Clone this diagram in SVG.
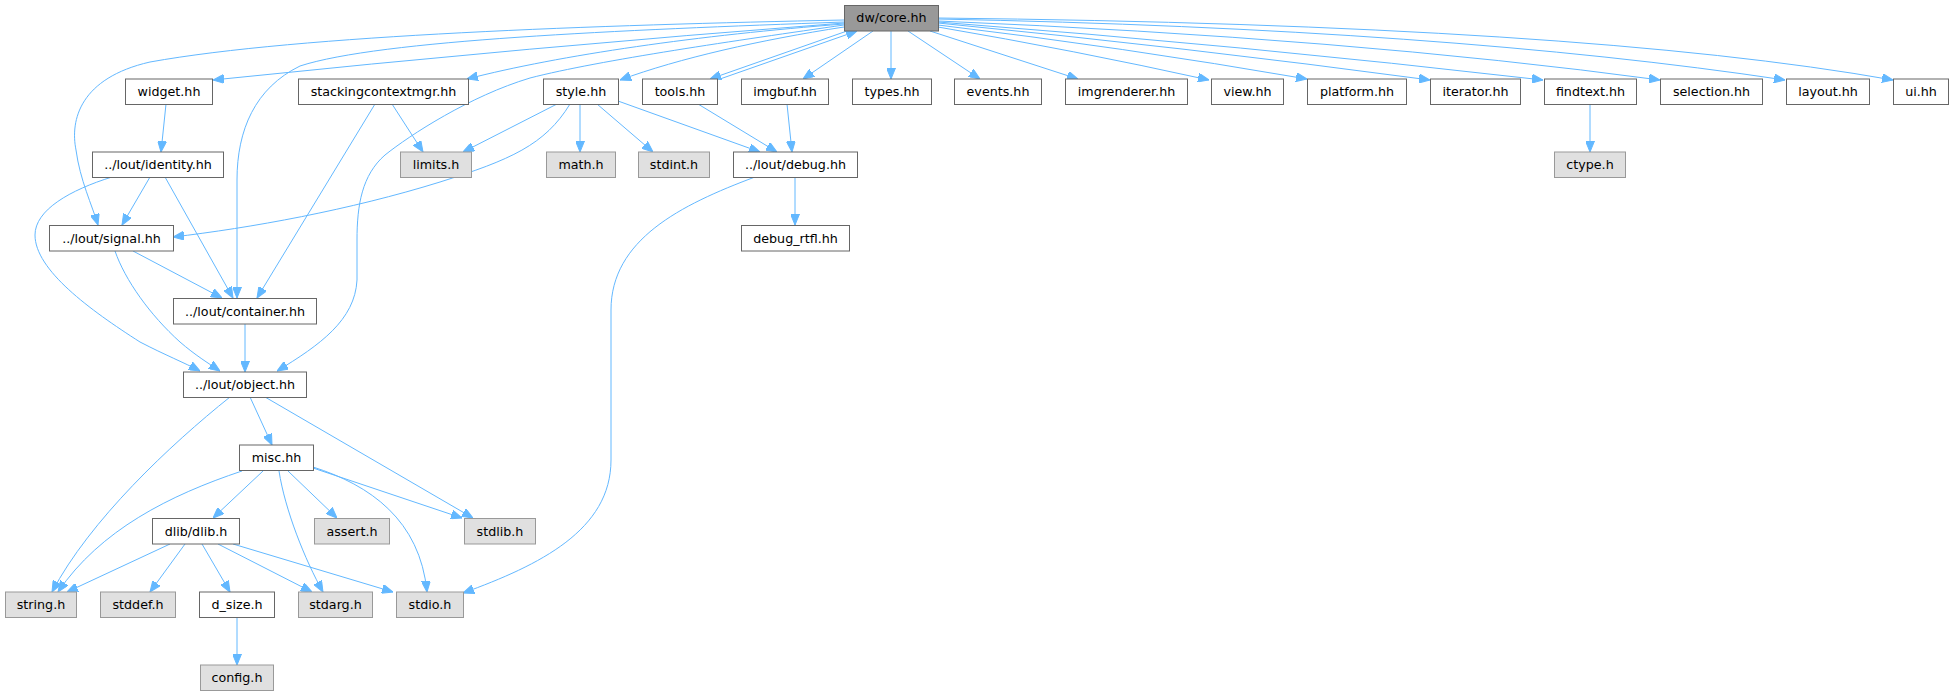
<svg xmlns="http://www.w3.org/2000/svg" width="1953" height="696" viewBox="0 0 1953 696">
<style>
.n rect{fill:#ffffff;stroke:#666666;stroke-width:1}
.g rect{fill:#e0e0e0;stroke:#999999;stroke-width:1}
.r rect{fill:#999999;stroke:#666666;stroke-width:1}
text{font-family:"DejaVu Sans","Liberation Sans",sans-serif;font-size:12.7px;fill:#000000;text-anchor:middle}
#edges path{fill:none;stroke:#63b8ff;stroke-width:1;marker-end:url(#a)}
</style>
<defs>
<marker id="a" markerWidth="11" markerHeight="9" refX="11" refY="4.5" orient="auto" markerUnits="userSpaceOnUse"><path d="M0,0 L11,4.5 L0,9 z" fill="#63b8ff" stroke="#63b8ff" stroke-width="1"/></marker>
</defs>
<rect width="1953" height="696" fill="#ffffff"/>
<g id="edges">
<path d="M844,20 C600,25 300,35 150,62 C80,78 70,120 76,150 C80,180 92,205 98,225"/>
<path d="M844,22 C620,30 380,40 300,66 C255,88 237,130 237,180 L237,298"/>
<path d="M844,23 Q530,47 213,80"/>
<path d="M844,24 C700,35 560,55 467,79"/>
<path d="M844,25 C740,40 600,60 530,78 C470,96 410,135 385,155 C362,175 357,205 357,240 L357,280 C355,320 320,345 277,371"/>
<path d="M844,27 C760,40 680,58 620,80"/>
<path d="M847,31 L710,79"/>
<path d="M720,79 L857,31"/>
<path d="M873,31 L803,79"/>
<path d="M891,31 L891,79"/>
<path d="M908,31 L980,79"/>
<path d="M930,31 L1078,79"/>
<path d="M938,27 Q1073,50 1209,80"/>
<path d="M938,25 Q1122,47 1307,79"/>
<path d="M938,23 Q1184,47 1430,80"/>
<path d="M938,22 Q1240,45 1543,80"/>
<path d="M938,21 Q1349,38 1660,80"/>
<path d="M938,19 Q1446,29 1785,80"/>
<path d="M938,18 Q1584,25 1893,80"/>
<path d="M166,104 L161,152"/>
<path d="M392,104 L423,152"/>
<path d="M375,104 L257,298"/>
<path d="M557,104 L463,152"/>
<path d="M570,104 C545,145 510,160 440,182 C350,210 250,228 173,237"/>
<path d="M580,104 L580,152"/>
<path d="M597,104 L653,152"/>
<path d="M618,101 L760,152"/>
<path d="M698,104 L777,152"/>
<path d="M787,104 L792,152"/>
<path d="M795,177 L795,225"/>
<path d="M755,177 C680,205 611,240 611,310 L611,460 C611,530 540,565 463,593"/>
<path d="M1590,104 L1590,152"/>
<path d="M150,177 L122,225"/>
<path d="M165,177 L233,298"/>
<path d="M112,177 C70,190 35,210 35,235 C35,270 90,310 140,342 C165,355 185,363 200,371"/>
<path d="M133,251 L222,298"/>
<path d="M115,251 C125,280 150,315 180,342 C195,355 208,363 220,371"/>
<path d="M245,324 L245,372"/>
<path d="M230,397 C170,445 90,520 52,592"/>
<path d="M250,397 L272,445"/>
<path d="M265,397 L473,518"/>
<path d="M242,471 C170,495 100,530 58,592"/>
<path d="M263,471 L213,518"/>
<path d="M279,471 C285,510 305,560 323,592"/>
<path d="M288,471 L337,518"/>
<path d="M313,468 L462,518"/>
<path d="M313,467 C370,485 420,520 427,592"/>
<path d="M170,544 L67,592"/>
<path d="M185,544 L150,592"/>
<path d="M202,544 L230,592"/>
<path d="M218,544 L312,592"/>
<path d="M233,544 L393,592"/>
<path d="M237,617 L237,665"/>
</g>
<g id="core" class="r"><rect x="844.5" y="5.5" width="94" height="25.5"/><text x="891.5" y="22">dw/core.hh</text></g>
<g id="widget" class="n"><rect x="125.5" y="79" width="87" height="25.5"/><text x="169" y="96">widget.hh</text></g>
<g id="stackingcontextmgr" class="n"><rect x="298.5" y="79" width="170" height="25.5"/><text x="383.5" y="96">stackingcontextmgr.hh</text></g>
<g id="style" class="n"><rect x="543.5" y="79" width="75" height="25.5"/><text x="581" y="96">style.hh</text></g>
<g id="tools" class="n"><rect x="642.5" y="79" width="75" height="25.5"/><text x="680" y="96">tools.hh</text></g>
<g id="imgbuf" class="n"><rect x="741.5" y="79" width="87" height="25.5"/><text x="785" y="96">imgbuf.hh</text></g>
<g id="types" class="n"><rect x="852.5" y="79" width="79" height="25.5"/><text x="892" y="96">types.hh</text></g>
<g id="events" class="n"><rect x="954.5" y="79" width="87" height="25.5"/><text x="998" y="96">events.hh</text></g>
<g id="imgrenderer" class="n"><rect x="1065.5" y="79" width="122" height="25.5"/><text x="1126.5" y="96">imgrenderer.hh</text></g>
<g id="view" class="n"><rect x="1211.5" y="79" width="72" height="25.5"/><text x="1247.5" y="96">view.hh</text></g>
<g id="platform" class="n"><rect x="1307.5" y="79" width="99" height="25.5"/><text x="1357" y="96">platform.hh</text></g>
<g id="iterator" class="n"><rect x="1430.5" y="79" width="90" height="25.5"/><text x="1475.5" y="96">iterator.hh</text></g>
<g id="findtext" class="n"><rect x="1544.5" y="79" width="92" height="25.5"/><text x="1590.5" y="96">findtext.hh</text></g>
<g id="selection" class="n"><rect x="1660.5" y="79" width="102" height="25.5"/><text x="1711.5" y="96">selection.hh</text></g>
<g id="layout" class="n"><rect x="1786.5" y="79" width="83" height="25.5"/><text x="1828" y="96">layout.hh</text></g>
<g id="ui" class="n"><rect x="1893.5" y="79" width="55" height="25.5"/><text x="1921" y="96">ui.hh</text></g>
<g id="identity" class="n"><rect x="92.5" y="152" width="131" height="25.5"/><text x="158" y="169">../lout/identity.hh</text></g>
<g id="limits" class="g"><rect x="400.5" y="152" width="71" height="25.5"/><text x="436" y="169">limits.h</text></g>
<g id="math" class="g"><rect x="546.5" y="152" width="69" height="25.5"/><text x="581" y="169">math.h</text></g>
<g id="stdint" class="g"><rect x="638.5" y="152" width="71" height="25.5"/><text x="674" y="169">stdint.h</text></g>
<g id="debug" class="n"><rect x="733.5" y="152" width="124" height="25.5"/><text x="795.5" y="169">../lout/debug.hh</text></g>
<g id="ctype" class="g"><rect x="1554.5" y="152" width="71" height="25.5"/><text x="1590" y="169">ctype.h</text></g>
<g id="signal" class="n"><rect x="49.5" y="225.5" width="124" height="25.5"/><text x="111.5" y="242.5">../lout/signal.hh</text></g>
<g id="debug_rtfl" class="n"><rect x="741.5" y="225.5" width="108" height="25.5"/><text x="795.5" y="242.5">debug_rtfl.hh</text></g>
<g id="container" class="n"><rect x="173.5" y="298.5" width="143" height="25.5"/><text x="245" y="315.5">../lout/container.hh</text></g>
<g id="object" class="n"><rect x="183.5" y="372" width="123" height="25.5"/><text x="245" y="389">../lout/object.hh</text></g>
<g id="misc" class="n"><rect x="239.5" y="445" width="74" height="25.5"/><text x="276.5" y="462">misc.hh</text></g>
<g id="dlib" class="n"><rect x="152.5" y="518.5" width="87" height="25.5"/><text x="196" y="535.5">dlib/dlib.h</text></g>
<g id="assert" class="g"><rect x="314.5" y="518.5" width="75" height="25.5"/><text x="352" y="535.5">assert.h</text></g>
<g id="stdlib" class="g"><rect x="464.5" y="518.5" width="71" height="25.5"/><text x="500" y="535.5">stdlib.h</text></g>
<g id="string" class="g"><rect x="5.5" y="592" width="71" height="25.5"/><text x="41" y="609">string.h</text></g>
<g id="stddef" class="g"><rect x="100.5" y="592" width="75" height="25.5"/><text x="138" y="609">stddef.h</text></g>
<g id="d_size" class="n"><rect x="199.5" y="592" width="75" height="25.5"/><text x="237" y="609">d_size.h</text></g>
<g id="stdarg" class="g"><rect x="298.5" y="592" width="74" height="25.5"/><text x="335.5" y="609">stdarg.h</text></g>
<g id="stdio" class="g"><rect x="396.5" y="592" width="67" height="25.5"/><text x="430" y="609">stdio.h</text></g>
<g id="config" class="g"><rect x="200.5" y="665" width="73" height="25.5"/><text x="237" y="682">config.h</text></g>
</svg>
